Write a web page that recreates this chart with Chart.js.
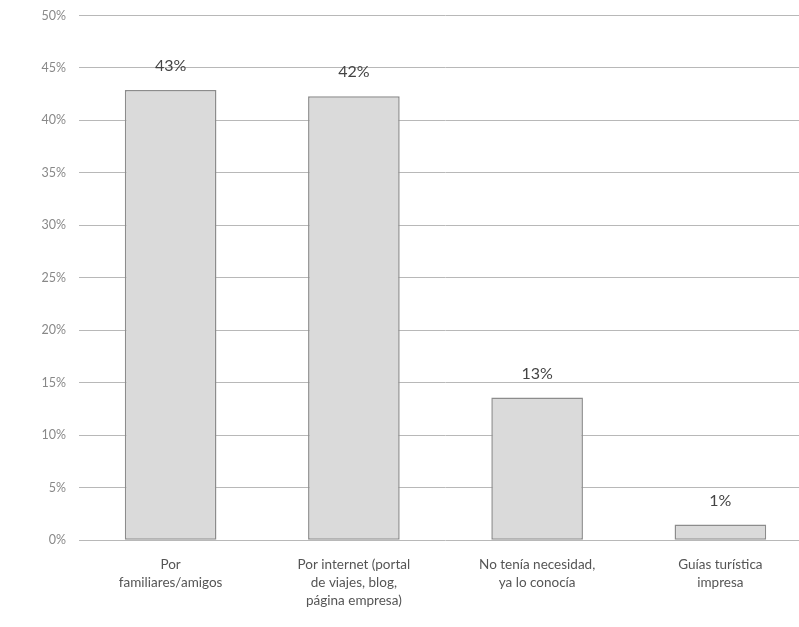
<!DOCTYPE html>
<html>
<head>
<meta charset="utf-8">
<script src="https://cdn.jsdelivr.net/npm/chart.js@4.4.0/dist/chart.umd.min.js"></script>
<style>
  html, body { margin: 0; padding: 0; background: #fff; overflow: hidden; }
  #wrap { width: 812px; height: 632px; margin-top: -5px; }
</style>
</head>
<body>
<div id="wrap"><canvas id="chart"></canvas></div>
<script>
// data
const categories = [
  ['Por', 'familiares/amigos'],
  ['Por internet (portal', 'de viajes, blog,', 'página empresa)'],
  ['No tenía necesidad,', 'ya lo conocía'],
  ['Guías turística', 'impresa']
];
const values = [42.9, 42.3, 13.6, 1.5];
const valueLabels = ['43%', '42%', '13%', '1%'];
const yTicks = [0, 5, 10, 15, 20, 25, 30, 35, 40, 45, 50];

const FONT = 'Lato, "Open Sans", sans-serif';

// labels on top of bars
const topLabels = {
  id: 'topLabels',
  afterDatasetsDraw(c) {
    const ctx = c.ctx;
    const meta = c.getDatasetMeta(0);
    ctx.save();
    ctx.font = '16px ' + FONT;
    ctx.fillStyle = '#444';
    ctx.textAlign = 'center';
    ctx.textBaseline = 'bottom';
    meta.data.forEach((bar, i) => {
      ctx.fillText(valueLabels[i], bar.x, bar.y - 16);
    });
    ctx.restore();
  }
};

new Chart(document.getElementById('chart'), {
  type: 'bar',
  data: {
    labels: categories,
    datasets: [{
      data: values,
      backgroundColor: '#dadada',
      borderColor: '#8c8c8c',
      borderWidth: 1.5,
      borderSkipped: false,
      barPercentage: 0.5,
      categoryPercentage: 1
    }]
  },
  options: {
    responsive: true,
    maintainAspectRatio: false,
    animation: false,
    layout: { padding: { top: 0, right: 0, bottom: 10, left: 0 } },
    plugins: {
      legend: { display: false },
      tooltip: { enabled: false }
    },
    scales: {
      x: {
        grid: { display: false },
        border: { display: false },
        ticks: {
          color: '#555',
          font: { family: FONT, size: 13.5, lineHeight: 1.35 },
          maxRotation: 0,
          autoSkip: false,
          padding: 7
        }
      },
      y: {
        min: 0,
        max: 50,
        afterBuildTicks(s) { s.ticks = yTicks.map(v => ({ value: v })); },
        afterFit(s) { s.width = 79; },
        grid: { color: '#b8b8b8', lineWidth: 1, drawTicks: false },
        border: { display: false },
        ticks: {
          color: '#888',
          font: { family: FONT, size: 12.5 },
          padding: 13,
          callback: v => v + '%'
        }
      }
    }
  },
  plugins: [topLabels]
});
</script>
</body>
</html>
